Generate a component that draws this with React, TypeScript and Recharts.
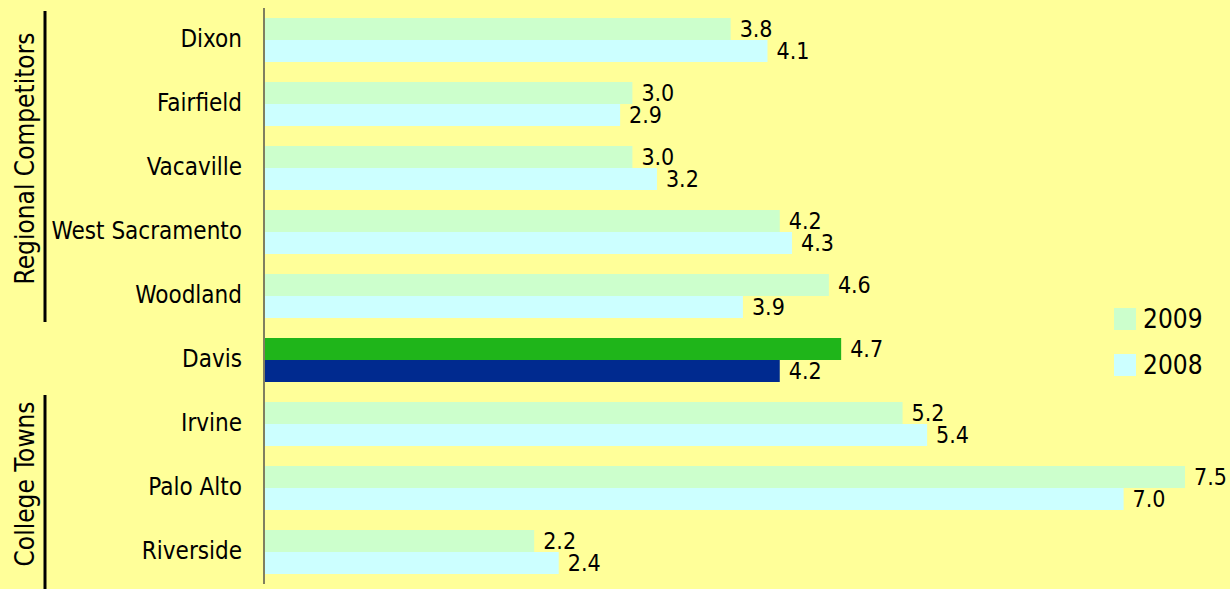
import { BarChart, Bar, XAxis, YAxis, Cell, LabelList } from 'recharts'

const cities = ['Dixon', 'Fairfield', 'Vacaville', 'West Sacramento', 'Woodland', 'Davis', 'Irvine', 'Palo Alto', 'Riverside']
const values2009 = [3.8, 3.0, 3.0, 4.2, 4.6, 4.7, 5.2, 7.5, 2.2]
const values2008 = [4.1, 2.9, 3.2, 4.3, 3.9, 4.2, 5.4, 7.0, 2.4]
const highlight = 'Davis'

const groups = [
  { label: 'Regional Competitors', from: 0, to: 4 },
  { label: 'College Towns', from: 6, to: 8 },
]

const WIDTH = 1230
const HEIGHT = 589
const MARGIN = { top: 8, right: 45, bottom: 5, left: 0 }
const AXIS_WIDTH = 264
const FONT = "'Liberation Sans Narrow', 'DejaVu Sans Condensed', 'Arial Narrow', sans-serif"

const COLORS = {
  bg: '#FFFF99',
  y2009: '#CCFFCC',
  y2008: '#CCFFFF',
  hi2009: '#1FB51A',
  hi2008: '#002A8F',
  axis: '#807F5F',
}

const data = cities.map((name, i) => ({ name, y2009: values2009[i], y2008: values2008[i] }))

function LegendBox() {
  const items = [
    { label: '2009', color: COLORS.y2009 },
    { label: '2008', color: COLORS.y2008 },
  ]
  return (
    <div style={{ position: 'absolute', left: 1114, top: 296, fontFamily: FONT, fontSize: 26, color: '#000' }}>
      {items.map((it) => (
        <div key={it.label} style={{ display: 'flex', alignItems: 'center', height: 46 }}>
          <div style={{ width: 22, height: 22, background: it.color, marginRight: 7 }} />
          <span>{it.label}</span>
        </div>
      ))}
    </div>
  )
}

// Bracket lines and rotated group names on the far left
function GroupBrackets() {
  const band = (HEIGHT - MARGIN.top - MARGIN.bottom) / cities.length
  return (
    <svg width={70} height={HEIGHT} style={{ position: 'absolute', left: 0, top: 0 }}>
      {groups.map((g) => {
        const y1 = MARGIN.top + g.from * band + 3
        const y2 = g.to === cities.length - 1 ? HEIGHT : MARGIN.top + (g.to + 1) * band - 6
        const mid = (y1 + y2) / 2 - 8
        return (
          <g key={g.label}>
            <line x1={45} x2={45} y1={y1} y2={y2} stroke="#000" strokeWidth={3} />
            <text
              x={25}
              y={mid}
              transform={`rotate(-90 25 ${mid})`}
              textAnchor="middle"
              dominantBaseline="central"
              fontFamily={FONT}
              fontSize={26}
              fill="#000"
            >
              {g.label}
            </text>
          </g>
        )
      })}
    </svg>
  )
}

export default function App() {
  return (
    <div style={{ position: 'absolute', left: 0, top: 0, width: WIDTH, height: HEIGHT, background: COLORS.bg }}>
      <BarChart
        width={WIDTH}
        height={HEIGHT}
        data={data}
        layout="vertical"
        margin={MARGIN}
        barCategoryGap={10}
        barGap={0}
      >
        <XAxis type="number" domain={[0, 7.5]} hide />
        <YAxis
          type="category"
          dataKey="name"
          width={AXIS_WIDTH}
          axisLine={{ stroke: COLORS.axis, strokeWidth: 2 }}
          tickLine={false}
          tickMargin={16}
          tick={{ fill: '#000', fontSize: 24, fontFamily: FONT, dy: -2 }}
          interval={0}
        />
        <Bar dataKey="y2009" name="2009" fill={COLORS.y2009} isAnimationActive={false}>
          {data.map((d) => (
            <Cell key={d.name} fill={d.name === highlight ? COLORS.hi2009 : COLORS.y2009} />
          ))}
          <LabelList dataKey="y2009" position="right" offset={9} fill="#000" fontSize={23} fontFamily={FONT} formatter={(v: number) => v.toFixed(1)} />
        </Bar>
        <Bar dataKey="y2008" name="2008" fill={COLORS.y2008} isAnimationActive={false}>
          {data.map((d) => (
            <Cell key={d.name} fill={d.name === highlight ? COLORS.hi2008 : COLORS.y2008} />
          ))}
          <LabelList dataKey="y2008" position="right" offset={9} fill="#000" fontSize={23} fontFamily={FONT} formatter={(v: number) => v.toFixed(1)} />
        </Bar>
      </BarChart>
      <LegendBox />
      <GroupBrackets />
    </div>
  )
}
